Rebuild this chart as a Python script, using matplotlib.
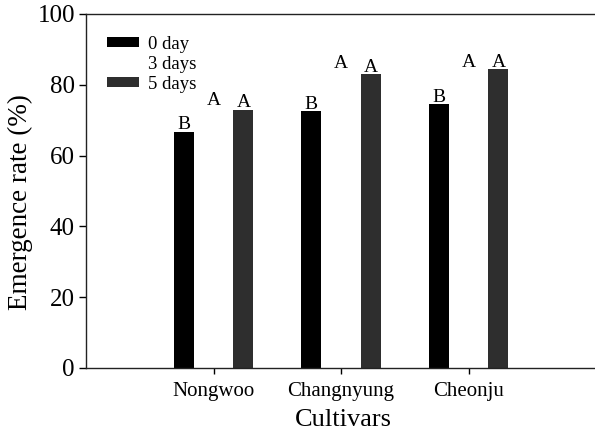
import numpy as np
import matplotlib.pyplot as plt

plt.rcParams['font.family'] = ['Liberation Serif', 'DejaVu Serif']

# data
cultivars = ['Nongwoo', 'Changnyung', 'Cheonju']
day0 = [66.8, 72.6, 74.5]
day3 = [73.7, 84.2, 84.4]   # printed in white in the original
day5 = [73.0, 83.0, 84.4]
letters0 = ['B', 'B', 'B']
letters3 = ['A', 'A', 'A']
letters5 = ['A', 'A', 'A']
series_labels = ['0 day', '3 days', '5 days']

fig = plt.figure(figsize=(5.95, 4.33), dpi=100)
ax = fig.add_axes([86 / 595, 1 - 368 / 433, 510 / 595, 354 / 433])

x = np.arange(1, len(cultivars) + 1)
width = 0.157
offset = 0.235

ax.bar(x - offset, day0, width, color='black', label=series_labels[0])
ax.bar(x, day3, width, color='white', label=series_labels[1])
ax.bar(x + offset, day5, width, color='#2e2e2e', label=series_labels[2])

for xs, vals, labs in [(x - offset, day0, letters0), (x, day3, letters3), (x + offset, day5, letters5)]:
    for xi, v, t in zip(xs, vals, labs):
        ax.text(xi, v + 0.6, t, ha='center', va='baseline', fontsize=14)

ax.set_xlim(0, 4)
ax.set_ylim(0, 100)
ax.set_xticks(x)
ax.set_xticklabels(cultivars, fontsize=15)
ax.set_yticks(np.arange(0, 101, 20))
ax.tick_params(axis='y', labelsize=18, direction='out', length=5, width=1, pad=3)
ax.tick_params(axis='x', direction='out', length=4, width=1, pad=6)

ax.spines['right'].set_visible(False)
for s in ['left', 'bottom', 'top']:
    ax.spines[s].set_linewidth(1.0)
    ax.spines[s].set_color('#222222')

ax.set_xlabel('Cultivars', fontsize=19)
ax.set_ylabel('Emergence rate (%)', fontsize=19.5)
ax.yaxis.set_label_coords(-0.103, 0.47)
ax.xaxis.set_label_coords(0.505, -0.115)

ax.legend(loc='upper left', bbox_to_anchor=(21 / 510, 1 - 22 / 354), frameon=False,
          fontsize=13.5, handlelength=1.7, handleheight=0.45, handletextpad=0.5,
          labelspacing=0.16, borderpad=0, borderaxespad=0)

fig.savefig('out.png', dpi=100)
